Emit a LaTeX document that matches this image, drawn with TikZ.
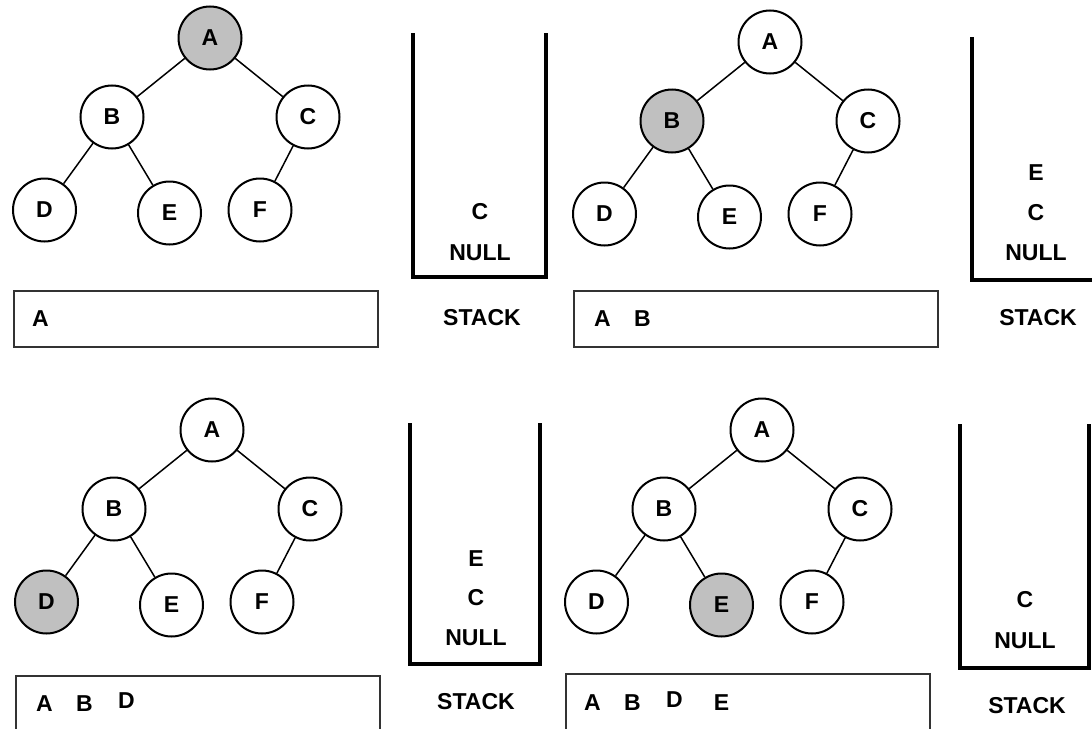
\documentclass[tikz,border=0pt]{standalone}
\usepackage{fontspec}
\setmainfont{Liberation Sans}
\usepackage{tikz}
\usetikzlibrary{trees}

\definecolor{silver}{HTML}{C0C0C0}

\begin{document}
\begin{tikzpicture}[x=1pt,y=-1pt]
\tikzstyle{every node}=[font=\bfseries\fontsize{23}{27}\selectfont]
\tikzstyle{vertex}=[circle,draw,line width=2pt,minimum size=63pt,inner sep=0pt]
\tikzstyle{visited}=[fill=silver]
\tikzstyle{every child node}=[vertex]
\tikzstyle{edge from parent}=[draw,line width=1.5pt]
\tikzstyle{level 1}=[sibling distance=196pt,level distance=79pt]
\tikzstyle{level 2}=[sibling distance=125pt,level distance=93pt]
\tikzstyle{wall}=[line width=3.5pt]
\tikzstyle{outbox}=[draw=black!80,line width=1.3pt,minimum width=364pt,minimum height=56pt,inner sep=0pt]
\tikzstyle{seq}=[anchor=base west,inner sep=0pt]
\tikzstyle{item}=[inner sep=0pt]

\useasboundingbox (0,0) rectangle (1092,728);
\clip (0,0) rectangle (1092,728);

% step 1: visit A, push C
\node[vertex,visited] (a1) at (210,38) {A}
  child {node (b1) {B}
    child {node[xshift=-5pt] (d1) {D}}
    child {node[xshift=-5pt,yshift=-3pt] (e1) {E}}
  }
  child {node (c1) {C}
    child {node[xshift=-48pt] (f1) {F}}
  };
\draw[wall] (413,33) -- (413,277) -- (546,277) -- (546,33);
\node[item] (s1c) at (480,212) {C};
\node[item] (s1null) at (480,253) {NULL};
\node[item] (s1lbl) at (482,318) {STACK};
\node[outbox] (out1) at (196,319) {};
\node[seq] (seq1) at (32,326) {A};

% step 2: visit B, push E
\node[vertex] (a2) at (770,42) {A}
  child {node[visited] (b2) {B}
    child {node[xshift=-5pt] (d2) {D}}
    child {node[xshift=-5pt,yshift=-3pt] (e2) {E}}
  }
  child {node (c2) {C}
    child {node[xshift=-48pt] (f2) {F}}
  };
\draw[wall] (972,37) -- (972,280) -- (1105,280) -- (1105,37);
\node[item] (s2e) at (1036,173) {E};
\node[item] (s2c) at (1036,213) {C};
\node[item] (s2null) at (1036,253) {NULL};
\node[item] (s2lbl) at (1038,318) {STACK};
\node[outbox] (out2) at (756,319) {};
\node[seq] (seq2) at (594,326) {A\hspace{23.4pt}B};

% step 3: visit D
\node[vertex] (a3) at (212,430) {A}
  child {node (b3) {B}
    child {node[xshift=-5pt,visited] (d3) {D}}
    child {node[xshift=-5pt,yshift=-3pt] (e3) {E}}
  }
  child {node (c3) {C}
    child {node[xshift=-48pt] (f3) {F}}
  };
\draw[wall] (410,423) -- (410,664) -- (540,664) -- (540,423);
\node[item] (s3e) at (476,559) {E};
\node[item] (s3c) at (476,598) {C};
\node[item] (s3null) at (476,638) {NULL};
\node[item] (s3lbl) at (476,702) {STACK};
\node[outbox] (out3) at (198,704) {};
\node[seq] (seq3) at (36,711) {A\hspace{23.4pt}B\hspace{25.4pt}\raisebox{3pt}{D}};

% step 4: pop E and visit it
\node[vertex] (a4) at (762,430) {A}
  child {node (b4) {B}
    child {node[xshift=-5pt] (d4) {D}}
    child {node[xshift=-5pt,yshift=-3pt,visited] (e4) {E}}
  }
  child {node (c4) {C}
    child {node[xshift=-48pt] (f4) {F}}
  };
\draw[wall] (960,424) -- (960,668) -- (1089,668) -- (1089,424);
\node[item] (s4c) at (1025,600) {C};
\node[item] (s4null) at (1025,641) {NULL};
\node[item] (s4lbl) at (1027,706) {STACK};
\node[outbox] (out4) at (748,702) {};
\node[seq] (seq4) at (584,710) {A\hspace{23.4pt}B\hspace{25.4pt}\raisebox{3pt}{D}\hspace{31pt}E};
\end{tikzpicture}
\end{document}
